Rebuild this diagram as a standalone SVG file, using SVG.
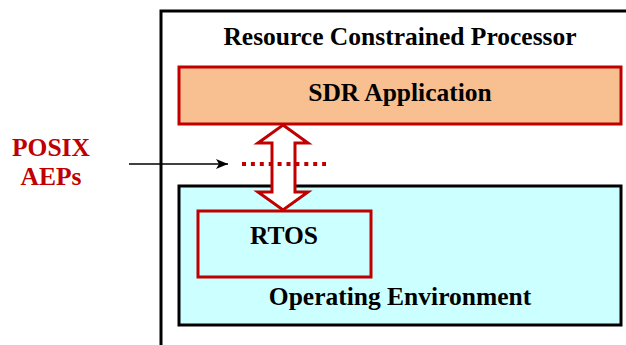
<svg xmlns="http://www.w3.org/2000/svg" width="626" height="345" viewBox="0 0 626 345">
<defs>
<style>
.t{font-family:"Liberation Serif","Times New Roman",serif;font-weight:bold;text-anchor:middle;fill:#000;font-size:25.5px}
.r{fill:#C00000}
</style>
<marker id="ah" viewBox="0 0 12 10" refX="12" refY="5" markerWidth="12" markerHeight="10" markerUnits="userSpaceOnUse" orient="auto">
<path d="M0,0 L12,5 L0,10 L3,5 Z" fill="#000"/>
</marker>
</defs>
<rect width="626" height="345" fill="#fff"/>
<g id="processor">
<rect x="161" y="11" width="500" height="400" fill="#fff" stroke="#000" stroke-width="3"/>
<text class="t" x="400" y="45">Resource Constrained Processor</text>
</g>
<g id="sdr-application">
<rect x="179" y="67" width="442" height="57" fill="#F8C090" stroke="#C00000" stroke-width="3"/>
<text class="t" x="400" y="101">SDR Application</text>
</g>
<g id="operating-environment">
<rect x="179" y="186" width="442" height="139" fill="#CCFFFF" stroke="#000" stroke-width="3"/>
<text class="t" x="400" y="305">Operating Environment</text>
</g>
<g id="rtos">
<rect x="198" y="211" width="173" height="66" fill="#CCFFFF" stroke="#C00000" stroke-width="3"/>
<text class="t" x="284" y="244">RTOS</text>
</g>
<g id="posix-aeps">
<text class="t r" x="51" y="156">POSIX</text>
<text class="t r" x="51" y="185">AEPs</text>
</g>
<g id="connectors">
<path d="M283,125 L308,143 L295,143 L295,192 L308,192 L283,210 L258,192 L272,192 L272,143 L258,143 Z" fill="#fff" stroke="#C00000" stroke-width="3" stroke-linejoin="miter"/>
<line x1="129" y1="164" x2="228" y2="164" stroke="#000" stroke-width="1.5" marker-end="url(#ah)"/>
<line x1="242" y1="164" x2="326" y2="164" stroke="#C00000" stroke-width="4" stroke-dasharray="4 4.9"/>
</g>
</svg>
